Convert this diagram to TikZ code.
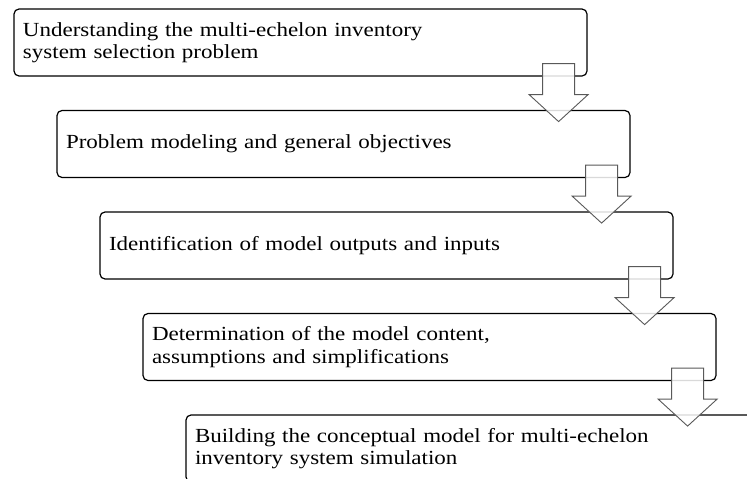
\documentclass[tikz,border=0pt]{standalone}
\usepackage{fontspec}
\setmainfont{Liberation Serif}[FakeStretch=1.15]
\usepackage{tikz}
\usetikzlibrary{calc}
\tikzset{
    rounded-box/.style = {draw=black, fill=white, line width=1.2pt, rectangle, rounded corners=5pt, minimum width=573pt, minimum height=67pt, text width=555pt, inner xsep=9pt, align=left, font=\fontsize{20}{22.4}\selectfont},
    block-arrow/.style = {draw=black!65, fill=white, fill opacity=0.85, line width=0.9pt},
}

\begin{document}
\begin{tikzpicture}[x=1pt, y=1pt]
\useasboundingbox (0,0) rectangle (747,-479);
\clip (0,0) rectangle (747,-479);
\node [rounded-box] (box-1) at (300.5,-42.5) {Understanding the multi-echelon inventory\\system selection problem};
\node [rounded-box] (box-2) at (343.5,-144) {Problem modeling and general objectives};
\node [rounded-box] (box-3) at (386.5,-245.5) {Identification of model outputs and inputs};
\node [rounded-box] (box-4) at (429.5,-347) {Determination of the model content,\\assumptions and simplifications};
\node [rounded-box] (box-5) at (472.5,-448.5) {Building the conceptual model for multi-echelon\\inventory system simulation};
% block arrows between the steps
\foreach \i/\j in {1/2, 2/3, 3/4, 4/5}{
    \coordinate (top-\i) at ($(box-\i.south east)+(-29,13)$);
    \draw [block-arrow] ($(top-\i)+(-16,0)$) -- ($(top-\i)+(16,0)$) -- ($(top-\i)+(16,-31)$) -- ($(top-\i)+(29.5,-31)$)
        -- ($(top-\i)+(0,-58)$) -- ($(top-\i)+(-29.5,-31)$) -- ($(top-\i)+(-16,-31)$) -- cycle;
}
\end{tikzpicture}
\end{document}
